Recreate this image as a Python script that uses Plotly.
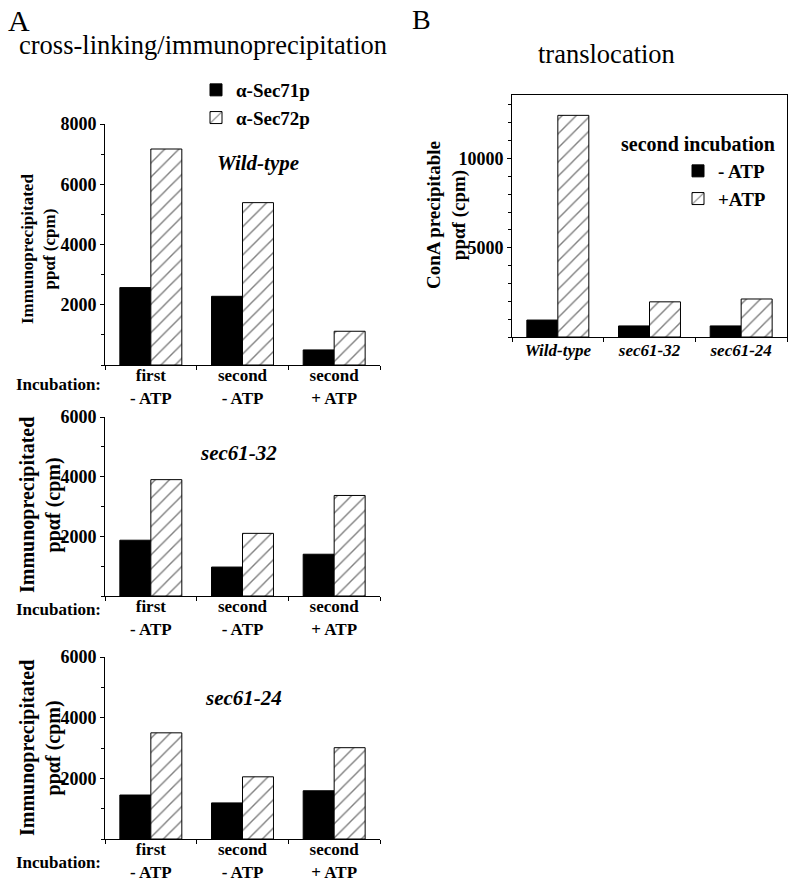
import plotly.graph_objects as go

# ---------------- data ----------------
conditions = ["first<br>- ATP", "second<br>- ATP", "second<br>+ ATP"]
wt_sec71 = [2570, 2280, 500]
wt_sec72 = [7170, 5390, 1120]
s32_sec71 = [1870, 970, 1400]
s32_sec72 = [3900, 2100, 3370]
s24_sec71 = [1450, 1190, 1590]
s24_sec72 = [3500, 2050, 3010]

strains = ["Wild-type", "sec61-32", "sec61-24"]
minus_atp = [950, 620, 620]
plus_atp = [12420, 1970, 2130]

yticks_a1 = [2000, 4000, 6000, 8000]
yticks_a23 = [2000, 4000, 6000]
yticks_b = [5000, 10000]

# ---------------- styling helpers ----------------
W, H = 800, 883
FONT = "Liberation Serif, Times New Roman, Times, serif"


def px(x):
    return x / W


def py(y):
    return 1 - y / H


hatch = dict(shape="/", size=10, solidity=0.14, fgcolor="black", bgcolor="white")

fig = go.Figure()

panels_a = [
    (wt_sec71, wt_sec72, "x", "y"),
    (s32_sec71, s32_sec72, "x2", "y2"),
    (s24_sec71, s24_sec72, "x3", "y3"),
]
for i, (a, b, xa, ya) in enumerate(panels_a):
    fig.add_trace(go.Bar(
        x=conditions, y=a, name="α-Sec71p", xaxis=xa, yaxis=ya,
        marker=dict(color="black", line=dict(color="black", width=1)),
        showlegend=(i == 0), legend="legend", legendgroup="s71"))
    fig.add_trace(go.Bar(
        x=conditions, y=b, name="α-Sec72p", xaxis=xa, yaxis=ya,
        marker=dict(color="white", pattern=hatch, line=dict(color="black", width=1)),
        showlegend=(i == 0), legend="legend", legendgroup="s72"))

fig.add_trace(go.Bar(
    x=strains, y=minus_atp, name="- ATP", xaxis="x4", yaxis="y4",
    marker=dict(color="black", line=dict(color="black", width=1)),
    legend="legend2"))
fig.add_trace(go.Bar(
    x=strains, y=plus_atp, name="+ATP", xaxis="x4", yaxis="y4",
    marker=dict(color="white", pattern=hatch, line=dict(color="black", width=1)),
    legend="legend2"))


def xax(domain, anchor, italic=False, mirror=False, size=17, standoff=-5):
    tf = dict(family=FONT, size=size, color="black", weight="bold")
    if italic:
        tf["style"] = "italic"
    return dict(domain=domain, anchor=anchor, type="category", showline=True,
                linecolor="black", linewidth=1, mirror=mirror, ticks="outside",
                tickson="boundaries", ticklen=4, tickcolor="black", showgrid=False,
                tickfont=tf, ticklabelstandoff=standoff, automargin=False,
                fixedrange=True)


def yax(domain, anchor, rng, tickvals, mirror=False):
    return dict(domain=domain, anchor=anchor, range=rng, tickvals=tickvals,
                tickformat="d", automargin=False,
                showline=True, linecolor="black", linewidth=1, mirror=mirror,
                ticks="outside", ticklen=4, tickcolor="black", showgrid=False,
                zeroline=False, tickfont=dict(family=FONT, size=18, color="black", weight="bold"),
                minor=dict(dtick=1000, tick0=0, ticks="outside", ticklen=3, tickcolor="black",
                           showgrid=False),
                fixedrange=True)


xd_a = [px(105), px(380)]

fig.update_layout(
    width=W, height=H, margin=dict(l=0, r=0, t=0, b=0, autoexpand=False),
    paper_bgcolor="white", plot_bgcolor="white",
    font=dict(family=FONT, color="black"),
    barmode="group", bargap=0.324, bargroupgap=0,
    xaxis=xax(xd_a, "y"),
    yaxis=yax([py(365), py(124)], "x", [0, 8000], yticks_a1),
    xaxis2=xax(xd_a, "y2"),
    yaxis2=yax([py(596), py(417)], "x2", [0, 6000], yticks_a23),
    xaxis3=xax(xd_a, "y3"),
    yaxis3=yax([py(839), py(657)], "x3", [0, 6000], yticks_a23),
    xaxis4=xax([px(512), px(787)], "y4", italic=True, mirror=True, standoff=-2),
    yaxis4=yax([py(337), py(95)], "x4", [0, 13560], yticks_b, mirror=True),
    legend=dict(x=px(196), y=py(71), xanchor="left", yanchor="top",
                bgcolor="rgba(0,0,0,0)", tracegroupgap=0,
                font=dict(family=FONT, size=19, color="black", weight="bold")),
    legend2=dict(x=px(678), y=py(152), xanchor="left", yanchor="top",
                 bgcolor="rgba(0,0,0,0)", tracegroupgap=0,
                 font=dict(family=FONT, size=19, color="black", weight="bold")),
)


def ann(text, x, y, size, xanchor="center", yanchor="middle", bold=False, italic=False,
        angle=0):
    if italic:
        text = "<i>" + text + "</i>"
    if bold:
        text = "<b>" + text + "</b>"
    fig.add_annotation(text=text, x=px(x), y=py(y), xref="paper", yref="paper",
                       xanchor=xanchor, yanchor=yanchor, showarrow=False, textangle=angle,
                       font=dict(family=FONT, size=size, color="black"))


ytitle_a = "Immunoprecipitated<br>ppαf (cpm)"
ann(ytitle_a, 38, 249, 17, bold=True, angle=-90)
ann(ytitle_a, 40, 505, 20, bold=True, angle=-90)
ann(ytitle_a, 40, 748, 20, bold=True, angle=-90)
ann("ConA precipitable<br>ppαf (cpm)", 446, 215, 19, bold=True, angle=-90)

ann("A", 6, 21, 30, xanchor="left")
ann("cross-linking/immunoprecipitation", 203, 45, 26.5)
ann("B", 410, 20, 28, xanchor="left")
ann("translocation", 606, 54, 26.5)
ann("Wild-type", 258, 163, 21, bold=True, italic=True)
ann("sec61-32", 238, 453, 21, bold=True, italic=True)
ann("sec61-24", 243, 698, 21, bold=True, italic=True)
ann("Incubation:", 103, 384, 17, xanchor="right", bold=True)
ann("Incubation:", 103, 609, 17, xanchor="right", bold=True)
ann("Incubation:", 103, 862, 17, xanchor="right", bold=True)
ann("second incubation", 698, 144, 20, bold=True)

# the page body gets no margin, so the 800x883 figure fills the window exactly
fig.write_html("out.html", config={"displayModeBar": False},
               post_script="document.body.style.margin='0';")
